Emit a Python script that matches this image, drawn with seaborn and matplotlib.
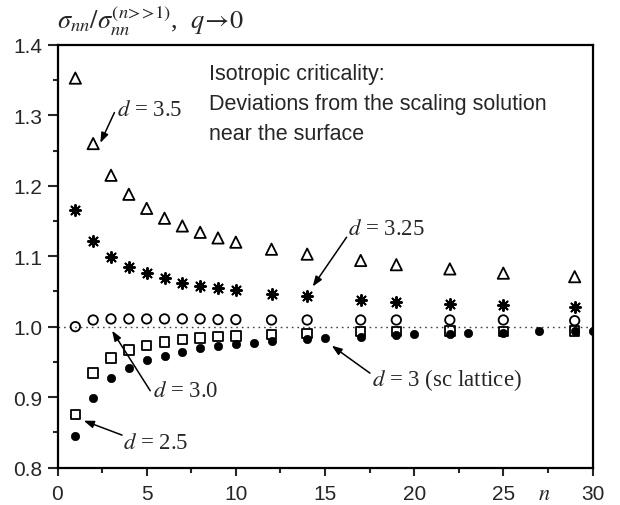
import numpy as np
import pandas as pd
import matplotlib
matplotlib.use("Agg")
import matplotlib.pyplot as plt
import seaborn as sns

# ---- data ----
n_a = [1, 2, 3, 4, 5, 6, 7, 8, 9, 10, 12, 14, 17, 19, 22, 25, 29]
d35 = [1.353, 1.260, 1.215, 1.188, 1.168, 1.154, 1.143, 1.134, 1.126, 1.120,
       1.110, 1.103, 1.094, 1.088, 1.082, 1.076, 1.071]
d325 = [1.166, 1.121, 1.099, 1.085, 1.076, 1.069, 1.062, 1.058, 1.055, 1.052,
        1.046, 1.043, 1.038, 1.035, 1.032, 1.031, 1.028]
d30 = [1.000, 1.0095, 1.011, 1.011, 1.011, 1.011, 1.011, 1.011, 1.010, 1.010,
       1.0095, 1.0095, 1.0095, 1.0095, 1.0095, 1.0095, 1.0085]
d25 = [0.875, 0.934, 0.9555, 0.967, 0.973, 0.978, 0.9815, 0.984, 0.986, 0.987,
       0.989, 0.9905, 0.993, 0.993, 0.994, 0.993, 0.994]
n_sc = [1, 2, 3, 4, 5, 6, 7, 8, 9, 10, 11, 12, 14, 15, 17, 19, 20, 22, 23, 25, 27, 29, 30]
d3sc = [0.845, 0.899, 0.927, 0.942, 0.952, 0.959, 0.964, 0.969, 0.972, 0.9755,
        0.977, 0.980, 0.983, 0.984, 0.986, 0.9875, 0.9895, 0.9895, 0.9905, 0.991,
        0.9935, 0.994, 0.9945]

xticks = [0, 5, 10, 15, 20, 25, 30]
yticks = [0.8, 0.9, 1.0, 1.1, 1.2, 1.3, 1.4]

sns.set_style("white")
plt.rcParams['font.family'] = ['Liberation Sans', 'DejaVu Sans']
plt.rcParams['mathtext.fontset'] = 'stix'

fig = plt.figure(figsize=(6.2, 5.06), dpi=100)
ax = fig.add_axes([57.5/620, 1-468.5/506, (592.5-57.5)/620, (468.5-46)/506])

ax.axhline(1.0, color='#444444', lw=1.0, ls=(0, (1.2, 2.8)), zorder=1)

sns.scatterplot(x=n_sc, y=d3sc, ax=ax, marker='o', s=36, color='black',
                edgecolor='black', linewidth=0.5, zorder=3, clip_on=True)
sns.scatterplot(x=n_a, y=d25, ax=ax, marker='s', s=46, facecolors='none',
                edgecolor='black', linewidth=1.3, zorder=4)
sns.scatterplot(x=n_a, y=d30, ax=ax, marker='o', s=46, facecolors='none',
                edgecolor='black', linewidth=1.3, zorder=4)
sns.scatterplot(x=n_a, y=d325, ax=ax, marker=(8, 2, 0), s=64, color='black',
                linewidth=1.4, zorder=4)
sns.scatterplot(x=n_a, y=d35, ax=ax, marker='^', s=66, facecolors='none',
                edgecolor='black', linewidth=1.3, zorder=4)

ax.set_xlim(0, 30)
ax.set_ylim(0.8, 1.4)
ax.set_xticks(xticks)
ax.set_xticklabels([str(v) for v in xticks])
ax.set_yticks(yticks)
ax.set_yticklabels([f"{v:.1f}" for v in yticks])
ax.set_xticks(np.arange(2.5, 30, 5), minor=True)
ax.set_yticks(np.arange(0.85, 1.4, 0.1), minor=True)
ax.tick_params(which='major', direction='out', length=7, width=1.5,
               labelsize=15, left=True, bottom=True, pad=4)
ax.tick_params(which='minor', direction='out', length=3.8, width=1.5,
               left=True, bottom=True)
ax.tick_params(axis='x', which='major', length=6, pad=6)
for sp in ax.spines.values():
    sp.set_linewidth(1.6)
    sp.set_color('black')
ax.set_xlabel('')
ax.set_ylabel('')

# title-like label
fig.text(57/620, 1-29/506,
         r"$\sigma_{nn}/\sigma_{nn}^{(n\!>\!\!>\!1)}$,  $q\!\rightarrow\!0$",
         fontsize=19, ha='left', va='baseline', family='Liberation Serif')

# n label
fig.text(544/620, 1-500/506, r"$n$", fontsize=16, ha='center', va='baseline')

# description
desc = ["Isotropic criticality:", "Deviations from the scaling solution", "near the surface"]
for yy, line in zip([1.352, 1.309, 1.266], desc):
    ax.text(8.5, yy, line, fontsize=15.5, ha='left', va='baseline')

serif = 'Liberation Serif'
ann = [
    (r"$d$ = 3.5", (3.35, 1.309), (2.40, 1.261), (3.19, 1.304)),
    (r"$d$ = 3.25", (16.29, 1.139), (14.31, 1.057), (16.21, 1.127)),
    (r"$d$ = 3.0", (5.37, 0.9087), (3.06, 0.9943), (5.20, 0.909)),
    (r"$d$ = 2.5", (3.69, 0.835), (1.47, 0.8665), (3.62, 0.846)),
    (r"$d$ = 3 (sc lattice)", (17.63, 0.9257), (15.38, 0.973), (17.52, 0.934)),
]
for txt, tpos, tip, start in ann:
    ax.text(tpos[0], tpos[1], txt, fontsize=16.5, family=serif, ha='left', va='center')
    ax.annotate('', xy=tip, xytext=start,
                arrowprops=dict(arrowstyle='-|>,head_length=0.6,head_width=0.22',
                                color='black', lw=1.1, shrinkA=0, shrinkB=0))

fig.savefig('out.png', dpi=100)
